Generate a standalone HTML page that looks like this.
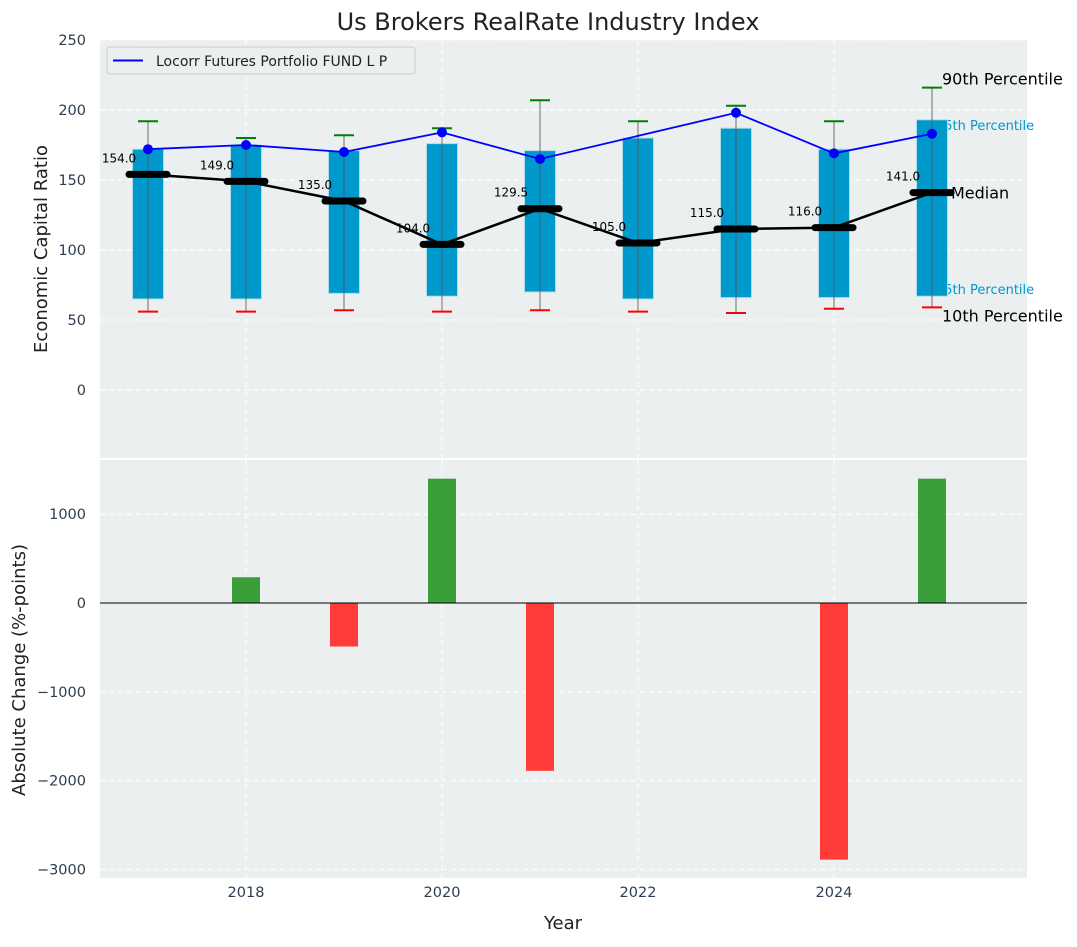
<!DOCTYPE html>
<html><head><meta charset="utf-8"><style>
body{margin:0;background:#fff;font-family:"Liberation Sans","DejaVu Sans",sans-serif}
svg text{font-family:"DejaVu Sans","Liberation Sans",sans-serif}
</style></head><body>
<svg id="c" width="1077" height="942" viewBox="0 0 1077 942" xmlns="http://www.w3.org/2000/svg"></svg>
<script>
const years=[2017,2018,2019,2020,2021,2022,2023,2024,2025];
const p10=[56,56,57,56,57,56,55,58,59];
const p25=[65,65,69,67,70,65,66,66,67];
const p50=[154,149,135,104,129.5,105,115,116,141];
const p75=[172,175,171,176,171,180,187,172,193];
const p90=[192,180,182,187,207,192,203,192,216];
const fund=[172,175,170,184,165,null,198,169,183];
const changes=[null,290,-490,1400,-1890,0,0,-2890,1400];
const topTicks=[0,50,100,150,200,250];
const botTicks=[-3000,-2000,-1000,0,1000];
const xTicks=[2018,2020,2022,2024];

const NS="http://www.w3.org/2000/svg";
const svg=document.getElementById('c');
function el(t,a,txt,parent){const e=document.createElementNS(NS,t);for(const k in a)e.setAttribute(k,a[k]);if(txt!=null)e.textContent=txt;(parent||svg).appendChild(e);return e;}
const X=v=>148+(v-2017)*98;
const YT=v=>390-1.4*v;
const YB=v=>603-0.0888*v;

let a=el('rect',{x:100,y:40,width:927,height:418,fill:'#ebeff0'});

a=el('rect',{x:100,y:460,width:927,height:418,fill:'#ebeff0'});


xTicks.forEach(t=>{
  el('line',{x1:X(t),x2:X(t),y1:40,y2:458,stroke:'#fff','stroke-dasharray':'5,4','stroke-width':1});
  el('line',{x1:X(t),x2:X(t),y1:460,y2:878,stroke:'#fff','stroke-dasharray':'5,4','stroke-width':1});
  let l=el('text',{x:X(t),y:897,'font-size':14.5,fill:'#2c3e50','text-anchor':'middle'},t);
  
});
topTicks.forEach(t=>{
  el('line',{x1:100,x2:1027,y1:YT(t),y2:YT(t),stroke:'#fff','stroke-dasharray':'5,4','stroke-width':1});
  let l=el('text',{x:86,y:YT(t)+5,'font-size':14.5,fill:'#2c3e50','text-anchor':'end'},t);
  
});
botTicks.forEach(t=>{
  el('line',{x1:100,x2:1027,y1:YB(t),y2:YB(t),stroke:'#fff','stroke-dasharray':'5,4','stroke-width':1});
  let l=el('text',{x:86,y:YB(t)+5,'font-size':14.5,fill:'#2c3e50','text-anchor':'end'},t<0?'\u2212'+(-t):t);
  
});

const L=years.length-1, lx=X(years[L]);
[['75th Percentile',lx+4,YT(p75[L])+10,13,'#0099cc','p75-annotation'],['25th Percentile',lx+4,YT(p25[L])-2,13,'#0099cc','p25-annotation']].forEach(d=>{
  let t=el('text',{x:d[1],y:d[2],'font-size':d[3],fill:d[4]},d[0]);
  });

years.forEach((y,i)=>{
  let b=el('rect',{x:X(y)-15.5,y:YT(p75[i]),width:31,height:YT(p25[i])-YT(p75[i]),fill:'#0099cc',stroke:'#b0dcea','stroke-width':1});
  
  let w=el('line',{x1:X(y),x2:X(y),y1:YT(p90[i]),y2:YT(p10[i]),stroke:'#555','stroke-opacity':0.7,'stroke-width':1.2});
  
  let g=el('line',{x1:X(y)-10,x2:X(y)+10,y1:YT(p90[i]),y2:YT(p90[i]),stroke:'green','stroke-width':2});
  
  let r=el('line',{x1:X(y)-10,x2:X(y)+10,y1:YT(p10[i]),y2:YT(p10[i]),stroke:'red','stroke-width':2});
  
});
let md=el('polyline',{points:years.map((y,i)=>X(y)+','+YT(p50[i])).join(' '),fill:'none',stroke:'#000','stroke-width':2.5});

years.forEach((y,i)=>{
  let m=el('line',{x1:X(y)-19,x2:X(y)+19,y1:YT(p50[i]),y2:YT(p50[i]),stroke:'#000','stroke-width':7,'stroke-linecap':'round'});
  
  let t=el('text',{x:X(y)-29,y:YT(p50[i])-12,'font-size':12,fill:'#000','text-anchor':'middle'},p50[i].toFixed(1));
  
});
let fl=el('polyline',{points:years.map((y,i)=>fund[i]==null?null:X(y)+','+YT(fund[i])).filter(Boolean).join(' '),fill:'none',stroke:'#0000ff','stroke-width':1.8});

years.forEach((y,i)=>{if(fund[i]==null)return;
  let d=el('circle',{cx:X(y),cy:YT(fund[i]),r:5,fill:'#0000ff'});
  });
[['90th Percentile',lx+10,YT(p90[L])-3,16,'#000','p90-annotation'],
 ['Median',lx+19,YT(p50[L])+6,16,'#000','median-annotation'],
 ['10th Percentile',lx+10,YT(p10[L])+14,16,'#000','p10-annotation']].forEach(d=>{
  let t=el('text',{x:d[1],y:d[2],'font-size':d[3],fill:d[4]},d[0]);
  });
let lg=el('rect',{x:107,y:47,width:308,height:27,rx:3,fill:'#ebeff0',stroke:'#ccc'});

el('line',{x1:113,x2:143,y1:60.5,y2:60.5,stroke:'#0000ff','stroke-width':2});
let lt=el('text',{x:156,y:66,'font-size':14,fill:'#222'},'Locorr Futures Portfolio FUND L P');


years.forEach((y,i)=>{ if(changes[i]==null||changes[i]===0)return;
  const v=changes[i];
  let b=el('rect',{x:X(y)-14,y:Math.min(YB(v),YB(0)),width:28,height:Math.abs(YB(v)-YB(0)),fill:v>0?'#3a9e3a':'#ff3b3b'});
  
});
el('line',{x1:100,x2:1027,y1:YB(0),y2:YB(0),stroke:'#000','stroke-width':1});

let t=el('text',{x:548,y:30,'font-size':24,fill:'#222','text-anchor':'middle'},'Us Brokers RealRate Industry Index');

t=el('text',{x:563,y:929,'font-size':18,fill:'#222','text-anchor':'middle'},'Year');

t=el('text',{x:47,y:249,'font-size':18,fill:'#222','text-anchor':'middle',transform:'rotate(-90 47 249)'},'Economic Capital Ratio');

t=el('text',{x:25,y:670,'font-size':18,fill:'#222','text-anchor':'middle',transform:'rotate(-90 25 670)'},'Absolute Change (%-points)');

</script>
</body></html>
